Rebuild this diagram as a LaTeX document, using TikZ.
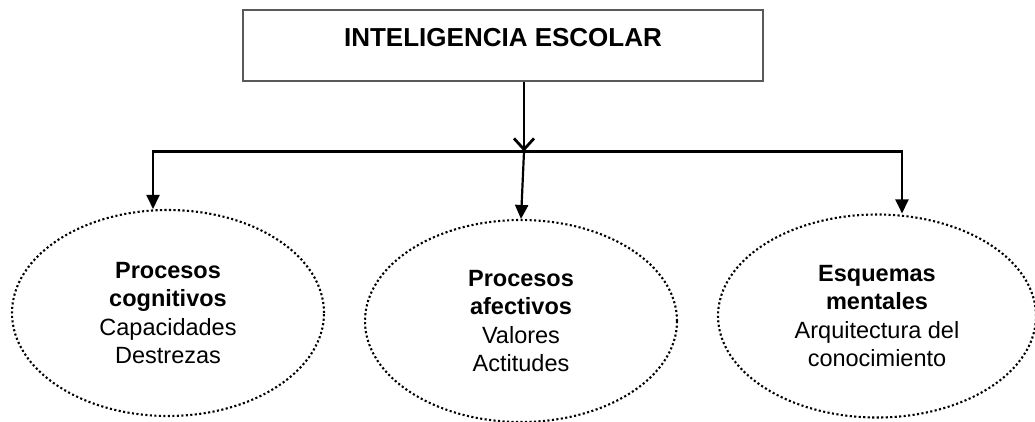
\documentclass[tikz,border=0pt]{standalone}
\usepackage{fontspec}
\setmainfont{Liberation Sans}
\usetikzlibrary{shapes.geometric,arrows.meta}
\begin{document}
\begin{tikzpicture}[x=1pt,y=-1pt,
  titlebox/.style={draw=black!65,line width=1.6pt,minimum width=520pt,minimum height=71.5pt,inner sep=0pt},
  oval/.style={ellipse,draw,line width=2.1pt,dash pattern=on 2.1pt off 2.4pt,inner sep=0pt,align=center,
    font=\fontsize{23.5}{28.5}\selectfont},
  link/.style={line width=2.2pt,-{Triangle[length=14pt,width=13pt]}},
  trunk/.style={line width=2.8pt,-{Straight Barb[length=11pt,width=20pt,line width=2.8pt]}},
  bar/.style={line width=3.2pt}]
\useasboundingbox (0,0) rectangle (1035,421);
\node[titlebox] (top) at (503,45.5) {};
\node[font=\bfseries\fontsize{26}{30}\selectfont] (title) at (503,38) {INTELIGENCIA ESCOLAR};
\node[oval,minimum width=312pt,minimum height=206pt] (e1) at (168,313)
  {\textbf{Procesos}\\\textbf{cognitivos}\\Capacidades\\Destrezas};
\node[oval,minimum width=312pt,minimum height=202pt] (e2) at (521,321)
  {\textbf{Procesos}\\\textbf{afectivos}\\Valores\\Actitudes};
\node[oval,minimum width=318pt,minimum height=203pt] (e3) at (877,316)
  {\textbf{Esquemas}\\\textbf{mentales}\\Arquitectura del\\conocimiento};
\coordinate (j) at (524,151.5);
\coordinate (hl) at (153,151.5);
\coordinate (hr) at (902,151.5);
\draw[trunk] (top.south -| j) -- (j);
\draw[bar] ([xshift=-1pt]hl) -- ([xshift=1pt]hr);
\draw[link] (hl) -- (hl |- e1.north);
\draw[link] (j) -- (e2.north);
\draw[link] (hr) -- (hr |- e3.north);
\end{tikzpicture}
\end{document}
